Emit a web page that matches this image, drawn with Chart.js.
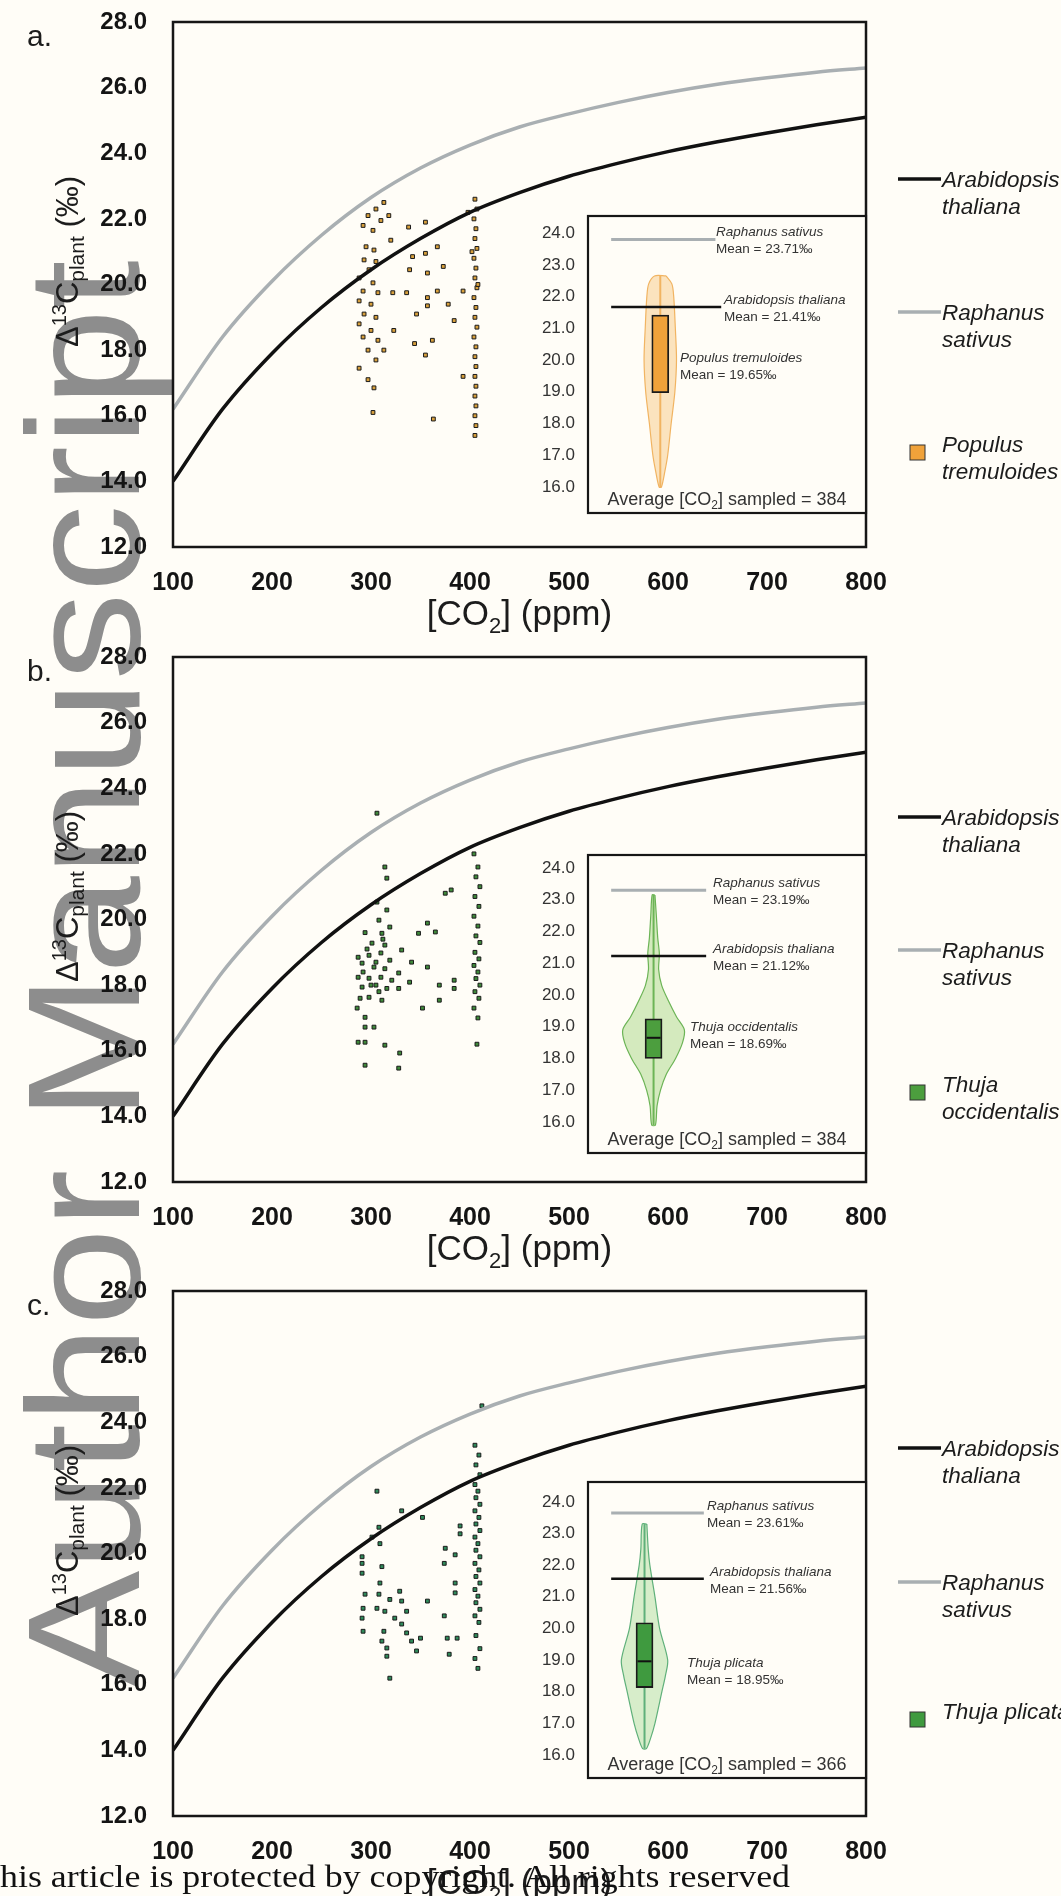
<!DOCTYPE html>
<html>
<head>
<meta charset="utf-8">
<title>Δ13C plant vs CO2</title>
<script src="https://cdn.jsdelivr.net/npm/chart.js@4.4.1/dist/chart.umd.min.js"></script>
<style>
  html, body { margin: 0; padding: 0; background: #fffdf7; }
  #page { position: relative; width: 1061px; height: 1896px; overflow: hidden; }
  #page canvas { position: absolute; }
  #wm { position: absolute; z-index: 0; font-family: "Liberation Sans", Arial, sans-serif; font-size: 160px; line-height: 1; color: #8d8d8d; white-space: nowrap; transform-origin: 0 0; }
  #foot { position: absolute; z-index: 5; left: 0; font-family: "Liberation Serif", "Times New Roman", serif; font-size: 31px; line-height: 1; color: #111; white-space: nowrap; transform-origin: 0 0; }
</style>
</head>
<body>
<div id="page">
  <div id="wm">Author Manuscript</div>
  <div id="foot">his article is protected by copyright. All rights reserved</div>
</div>
<script>
// Axis ticks
const xTicks = [100, 200, 300, 400, 500, 600, 700, 800];
const yTicks = [12, 14, 16, 18, 20, 22, 24, 26, 28];
const insetTicks = [16, 17, 18, 19, 20, 21, 22, 23, 24];

// Model curves (same in all panels)
const curveCO2 = [100, 150, 200, 250, 300, 350, 400, 450, 500, 550, 600, 650, 700, 750, 800];
const arabidopsis = [14.0, 16.2, 17.9, 19.3, 20.45, 21.4, 22.2, 22.8, 23.3, 23.7, 24.05, 24.35, 24.62, 24.87, 25.1];
const raphanus = [16.2, 18.4, 20.1, 21.5, 22.65, 23.55, 24.25, 24.8, 25.2, 25.55, 25.85, 26.1, 26.3, 26.47, 26.6];

// a. Populus tremuloides
const aCO2 = [313, 305, 297, 310, 302, 292, 318, 295, 303, 293, 305, 298, 288, 302, 292, 307, 288, 300, 293, 305,
  288, 300, 292, 307, 313, 297, 288, 305, 297, 303, 302, 320, 322, 323,
  338, 355, 342, 355, 367, 339, 357, 373, 336, 357, 367, 346, 357, 384, 344, 362, 355, 363, 378,
  405, 407, 404, 406, 405, 407, 404, 406, 405, 407, 404, 406, 405, 407, 404, 406, 405, 406, 405, 406, 405, 406, 405, 406, 405,
  393, 393, 398, 402, 408];
const aD13C = [22.5, 22.3, 22.1, 21.95, 21.65, 21.8, 22.1, 21.15, 21.05, 20.75, 20.7, 20.45, 20.2, 20.05, 19.8, 19.75, 19.5, 19.4, 19.1, 19.0,
  18.8, 18.6, 18.4, 18.3, 18.0, 18.0, 17.45, 17.7, 17.1, 16.85, 16.1, 21.35, 19.75, 18.6,
  21.75, 21.9, 20.85, 20.95, 21.15, 20.45, 20.35, 20.55, 19.75, 19.6, 19.8, 19.1, 19.35, 18.9, 18.2, 18.3, 17.85, 15.9, 19.4,
  22.6, 22.3, 22.0, 21.7, 21.4, 21.1, 20.8, 20.5, 20.2, 19.9, 19.6, 19.3, 19.0, 18.7, 18.4, 18.1, 17.8, 17.5, 17.2, 16.9, 16.6, 16.3, 16.0, 15.7, 15.4,
  19.8, 17.2, 22.2, 21.0, 20.0];

// b. Thuja occidentalis
const bCO2 = [306, 314, 316, 306, 316, 308, 294, 311, 319, 301, 314, 331, 287, 298, 310, 319, 291, 303, 314, 328,
  287, 298, 310, 321, 291, 305, 316, 328, 298, 311, 289, 286, 294, 294, 303, 287, 294, 314, 329, 294, 328,
  296, 305, 300, 308, 292, 312,
  357, 348, 365, 341, 357, 339, 369, 384, 384, 369, 352, 381, 375,
  404, 408, 406, 410, 405, 409, 404, 408, 406, 410, 405, 409, 404, 408, 406, 410, 405, 409, 404, 408, 407];
const bD13C = [23.24, 21.6, 21.26, 20.53, 20.29, 19.98, 19.6, 19.58, 19.77, 19.28, 19.22, 19.07, 18.85, 18.91, 18.98, 18.76, 18.67, 18.55, 18.5, 18.37,
  18.24, 18.21, 18.24, 18.15, 17.94, 18.0, 17.9, 17.9, 17.63, 17.54, 17.6, 17.3, 17.02, 16.72, 16.72, 16.26, 16.26, 16.17, 15.93, 15.56, 15.47,
  19.1, 18.7, 18.0, 17.8, 18.4, 19.4,
  19.89, 19.58, 19.62, 18.7, 18.55, 18.09, 18.0, 18.15, 17.9, 17.54, 17.3, 20.9, 20.8,
  22.0, 21.6, 21.3, 21.0, 20.7, 20.4, 20.1, 19.8, 19.5, 19.3, 19.0, 18.8, 18.6, 18.4, 18.2, 18.0, 17.8, 17.6, 17.3, 17.0, 16.2];

// c. Thuja plicata
const cCO2 = [412, 306, 331, 352, 308, 301, 309, 291, 291, 311, 291, 309, 329, 294, 308, 319, 331, 357, 292, 306,
  314, 336, 291, 324, 331, 292, 313, 336, 350, 311, 341, 346, 316, 316, 319,
  375, 385, 374, 390, 390, 385, 385, 374, 377, 387, 379,
  405, 409, 406, 410, 405, 408, 406, 410, 405, 409, 406, 410, 405, 408, 406, 410, 405, 409, 406, 410, 405, 408, 406, 410, 405, 409, 406, 410, 405, 408];
const cD13C = [24.5, 21.9, 21.3, 21.1, 20.8, 20.5, 20.3, 19.9, 19.7, 19.6, 19.4, 19.1, 18.85, 18.76, 18.76, 18.6, 18.55, 18.55, 18.33, 18.33,
  18.24, 18.24, 18.03, 18.03, 17.85, 17.63, 17.63, 17.58, 17.42, 17.33, 17.33, 17.03, 17.12, 16.87, 16.2,
  20.16, 19.96, 19.7, 20.84, 20.6, 19.1, 18.8, 18.1, 17.42, 17.42, 16.93,
  23.3, 23.0, 22.7, 22.4, 22.1, 21.9, 21.7, 21.5, 21.3, 21.1, 20.9, 20.7, 20.5, 20.3, 20.1, 19.9, 19.7, 19.5, 19.3, 19.1,
  18.9, 18.7, 18.5, 18.3, 18.1, 17.9, 17.5, 17.1, 16.8, 16.5];

// Inset violins: value and half width (inset x units)
const violinAVal = [22.65, 22.4, 22.0, 21.0, 20.0, 19.0, 18.0, 17.0, 16.5, 16.0];
const violinAWid = [2.5, 5.0, 5.8, 6.5, 7.0, 6.3, 4.7, 3.2, 2.0, 0.5];
const violinBVal = [23.15, 22.5, 21.8, 21.3, 20.8, 20.3, 19.8, 19.3, 18.9, 18.5, 18.0, 17.5, 17.0, 16.5, 15.9];
const violinBWid = [0.6, 1.2, 1.8, 2.5, 2.2, 3.5, 6.5, 10.0, 13.3, 12.5, 9.5, 5.5, 3.0, 1.5, 0.8];
const violinCVal = [23.3, 22.5, 22.0, 21.0, 20.0, 19.0, 18.5, 18.0, 17.0, 16.5, 16.2];
const violinCWid = [1.0, 1.6, 2.3, 4.5, 6.5, 10.0, 9.0, 7.5, 4.5, 2.5, 0.8];

// Inset summary values: [raphanus line, arabidopsis line], box [q1, q3], median, whisker [min, max], species mean
const aRef = [23.8, 21.67], aBox = [18.97, 21.42], aMed = null, aWhisk = [16.0, 22.65], aMean = 19.85;
const bRef = [23.30, 21.23], bBox = [18.0, 19.25], bMed = 18.65, bWhisk = [15.9, 23.15], bMean = 18.77;
const cRef = [23.65, 21.57], cBox = [18.13, 20.18], cMed = 18.96, cWhisk = [16.2, 23.3], cMean = 18.67;

const FONT = '"Liberation Sans", Arial, sans-serif';
const BG = '#fffdf7';

const panels = [
  { label: 'a.', top: 0, co2: aCO2, d13c: aD13C, dot: '#d8a03c', sq: '#f0a23a',
    species: ['Populus', 'tremuloides'], legY: [157, 290, 425],
    inset: { top: 214, h: 301, ymin: 15.18, ymax: 24.54, center: 21.2, refEnd: [45, 47.5],
      val: violinAVal, wid: violinAWid, ref: aRef, box: aBox, med: aMed, whisk: aWhisk, mean: aMean,
      vFill: 'rgba(246,196,120,0.45)', vLine: '#f1b462', boxFill: '#f0a23a',
      texts: [['Raphanus sativus', 'Mean = 23.71‰', 188], ['Arabidopsis thaliana', 'Mean = 21.41‰', 196], ['Populus tremuloides', 'Mean = 19.65‰', 152]],
      avg: '384' } },
  { label: 'b.', top: 635, co2: bCO2, d13c: bD13C, dot: '#3f8a3a', sq: '#4c9e3e',
    species: ['Thuja', 'occidentalis'], legY: [160, 293, 430],
    inset: { top: 853, h: 302, ymin: 15.02, ymax: 24.41, center: 18.3, refEnd: [41, 41],
      val: violinBVal, wid: violinBWid, ref: bRef, box: bBox, med: bMed, whisk: bWhisk, mean: bMean,
      vFill: 'rgba(160,210,120,0.45)', vLine: '#6cb456', boxFill: '#4c9e3e',
      texts: [['Raphanus sativus', 'Mean = 23.19‰', 185], ['Arabidopsis thaliana', 'Mean = 21.12‰', 185], ['Thuja occidentalis', 'Mean = 18.69‰', 162]],
      avg: '384' } },
  { label: 'c.', top: 1269, co2: cCO2, d13c: cD13C, dot: '#2f8a5a', sq: '#3f9a3f',
    species: ['Thuja plicata'], legY: [157, 291, 423],
    inset: { top: 1480, h: 300, ymin: 15.27, ymax: 24.63, center: 14.4, refEnd: [40, 40],
      val: violinCVal, wid: violinCWid, ref: cRef, box: cBox, med: cMed, whisk: cWhisk, mean: cMean,
      vFill: 'rgba(160,215,140,0.42)', vLine: '#5fb07a', boxFill: '#3f9a3f',
      texts: [['Raphanus sativus', 'Mean = 23.61‰', 179], ['Arabidopsis thaliana', 'Mean = 21.56‰', 182], ['Thuja plicata', 'Mean = 18.95‰', 159]],
      avg: '366' } }
];

// draws a run of text pieces with different sizes / offsets
function richText(ctx, parts, x, y, align) {
  let w = 0;
  parts.forEach(p => { ctx.font = p.f; p.w = ctx.measureText(p.t).width; w += p.w; });
  let cx = align === 'center' ? x - w / 2 : x;
  ctx.textAlign = 'left';
  ctx.textBaseline = 'alphabetic';
  parts.forEach(p => { ctx.font = p.f; ctx.fillText(p.t, cx, y + (p.dy || 0)); cx += p.w; });
}

function mkCanvas(left, top, w, h, z) {
  const c = document.createElement('canvas');
  c.width = w; c.height = h;
  c.style.left = left + 'px'; c.style.top = top + 'px'; c.style.zIndex = z;
  document.getElementById('page').appendChild(c);
  return c;
}

// keep the tick label overhang from pushing the plot area down
function noOverhang(s, w) {
  s.width = w;
  s.paddingTop = 0;
  s.paddingBottom = 0;
}

function decorPlugin(p) {
  return {
    id: 'decor',
    afterDraw(chart) {
      const ctx = chart.ctx, a = chart.chartArea;
      ctx.save();
      ctx.strokeStyle = '#161616';
      ctx.lineWidth = 2.5;
      ctx.strokeRect(a.left, a.top, a.right - a.left, a.bottom - a.top);
      ctx.fillStyle = '#1c1c1c';
      ctx.font = `30px ${FONT}`;
      ctx.textAlign = 'left';
      ctx.fillText(p.label, 27, a.top + 24);
      // x title
      richText(ctx, [
        { t: '[CO', f: `35px ${FONT}` },
        { t: '2', f: `22px ${FONT}`, dy: 8 },
        { t: '] (ppm)', f: `35px ${FONT}` }
      ], (a.left + a.right) / 2, a.bottom + 78, 'center');
      // y title
      ctx.save();
      ctx.translate(67, (a.top + a.bottom) / 2 - 23);
      ctx.rotate(-Math.PI / 2);
      richText(ctx, [
        { t: 'Δ', f: `31px ${FONT}` },
        { t: '13', f: `20px ${FONT}`, dy: -12 },
        { t: 'C', f: `31px ${FONT}` },
        { t: 'plant', f: `21px ${FONT}`, dy: 6 },
        { t: ' (‰)', f: `31px ${FONT}` }
      ], 0, 11, 'center');
      ctx.restore();
      // legend
      const legend = [
        { kind: 'line', color: '#111', text: ['Arabidopsis', 'thaliana'] },
        { kind: 'line', color: '#a9afb2', text: ['Raphanus', 'sativus'] },
        { kind: 'sq', color: p.sq, text: p.species }
      ];
      legend.forEach((it, i) => {
        const y = a.top + p.legY[i];
        if (it.kind === 'line') {
          ctx.strokeStyle = it.color;
          ctx.lineWidth = 3.5;
          ctx.beginPath(); ctx.moveTo(898, y); ctx.lineTo(941, y); ctx.stroke();
        } else {
          ctx.fillStyle = it.color;
          ctx.fillRect(910, y - 2, 15, 15);
          ctx.strokeStyle = '#333';
          ctx.lineWidth = 1;
          ctx.strokeRect(910, y - 2, 15, 15);
        }
        ctx.fillStyle = '#1c1c1c';
        ctx.font = `italic 22.5px ${FONT}`;
        ctx.textAlign = 'left';
        const y0 = it.kind === 'sq' ? y - 3 : y;
        it.text.forEach((t, k) => ctx.fillText(t, 942, y0 + 8 + k * 27));
      });
      ctx.restore();
    }
  };
}

function insetPlugin(q) {
  return {
    id: 'insetDecor',
    beforeDatasetsDraw(chart) {
      const ctx = chart.ctx, a = chart.chartArea;
      ctx.save();
      ctx.fillStyle = BG;
      ctx.fillRect(a.left, a.top, a.right - a.left, a.bottom - a.top);
      ctx.restore();
    },
    afterDraw(chart) {
      const ctx = chart.ctx, a = chart.chartArea, ys = chart.scales.y;
      ctx.save();
      ctx.strokeStyle = '#161616';
      ctx.lineWidth = 2.2;
      ctx.strokeRect(a.left, a.top, a.right - a.left, a.bottom - a.top);
      ctx.fillStyle = '#333';
      const vals = [q.ref[0], q.ref[1], q.mean];
      q.texts.forEach((t, i) => {
        const y = ys.getPixelForValue(vals[i]);
        ctx.font = `italic 13.5px ${FONT}`;
        ctx.textAlign = 'left';
        ctx.fillText(t[0], t[2], y - 3);
        ctx.font = `13.5px ${FONT}`;
        ctx.fillText(t[1], t[2], y + 14);
      });
      richText(ctx, [
        { t: 'Average [CO', f: `18px ${FONT}` },
        { t: '2', f: `12px ${FONT}`, dy: 4 },
        { t: '] sampled = ' + q.avg, f: `18px ${FONT}` }
      ], (a.left + a.right) / 2, a.bottom - 8, 'center');
      ctx.restore();
    }
  };
}

panels.forEach(p => {
  const c = mkCanvas(0, p.top, 1061, 634, 1);
  new Chart(c, {
    type: 'scatter',
    data: {
      datasets: [
        { label: 'Arabidopsis thaliana', data: curveCO2.map((x, i) => ({ x, y: arabidopsis[i] })),
          showLine: true, borderColor: '#111', borderWidth: 3.5, pointRadius: 0, cubicInterpolationMode: 'monotone' },
        { label: 'Raphanus sativus', data: curveCO2.map((x, i) => ({ x, y: raphanus[i] })),
          showLine: true, borderColor: '#a9afb2', borderWidth: 3.5, pointRadius: 0, cubicInterpolationMode: 'monotone' },
        { label: p.species.join(' '), data: p.co2.map((x, i) => ({ x, y: p.d13c[i] })),
          pointStyle: 'rect', pointRadius: 2.7, backgroundColor: p.dot, borderColor: '#1a1a1a', borderWidth: 1 }
      ]
    },
    options: {
      responsive: false, animation: false,
      layout: { padding: { top: 22, right: 195, bottom: 0, left: 0 } },
      plugins: { legend: { display: false }, tooltip: { enabled: false } },
      scales: {
        x: { type: 'linear', min: 100, max: 800,
          grid: { display: false, drawTicks: false }, border: { display: false },
          afterBuildTicks: s => { s.ticks = xTicks.map(v => ({ value: v })); },
          afterFit: s => { s.height = 87; },
          ticks: { padding: 21, color: '#141414', maxRotation: 0, autoSkip: false,
            font: { family: FONT, size: 25, weight: 'bold' } } },
        y: { min: 12, max: 28,
          grid: { display: false, drawTicks: false }, border: { display: false },
          afterBuildTicks: s => { s.ticks = yTicks.map(v => ({ value: v })); },
          afterFit: s => noOverhang(s, 173),
          ticks: { padding: 26, color: '#141414', callback: v => v.toFixed(1),
            font: { family: FONT, size: 24, weight: 'bold' } } }
      }
    },
    plugins: [decorPlugin(p)]
  });

  // inset violin chart
  const q = p.inset;
  const ic = mkCanvas(528, q.top, 340, q.h, 2);
  const right = q.val.map((v, i) => ({ x: q.center + q.wid[i], y: v }));
  const left = q.val.map((v, i) => ({ x: q.center - q.wid[i], y: v })).reverse();
  const shape = right.concat(left, [right[0]]);
  const ds = [
    { type: 'line', data: [{ x: 0, y: q.ref[0] }, { x: q.refEnd[0], y: q.ref[0] }], borderColor: '#a9afb2', borderWidth: 3, pointRadius: 0 },
    { type: 'line', data: [{ x: 0, y: q.ref[1] }, { x: q.refEnd[1], y: q.ref[1] }], borderColor: '#111', borderWidth: 2.5, pointRadius: 0 }
  ];
  if (q.med !== null) {
    ds.push({ type: 'line', data: [{ x: q.center - 3, y: q.med }, { x: q.center + 3, y: q.med }], borderColor: '#111', borderWidth: 2, pointRadius: 0 });
  }
  ds.push(
    { type: 'bar', data: [{ x: q.center, y: q.box }], backgroundColor: q.boxFill, borderColor: '#1a1a1a', borderWidth: 1.8, borderSkipped: false, barThickness: 17 },
    { type: 'line', data: [{ x: q.center, y: q.whisk[0] }, { x: q.center, y: q.whisk[1] }], borderColor: q.vLine, borderWidth: 2, pointRadius: 0 },
    { type: 'line', data: shape, borderColor: q.vLine, borderWidth: 1.2, backgroundColor: q.vFill, fill: 'shape', pointRadius: 0, tension: 0.3 }
  );
  new Chart(ic, {
    type: 'scatter',
    data: { datasets: ds },
    options: {
      responsive: false, animation: false,
      layout: { padding: { top: 2, right: 2, bottom: 2, left: 0 } },
      plugins: { legend: { display: false }, tooltip: { enabled: false } },
      scales: {
        x: { type: 'linear', min: 0, max: 100, display: false },
        y: { min: q.ymin, max: q.ymax,
          grid: { display: false, drawTicks: false }, border: { display: false },
          afterBuildTicks: s => { s.ticks = insetTicks.map(v => ({ value: v })); },
          afterFit: s => noOverhang(s, 60),
          ticks: { padding: 13, color: '#333', callback: v => v.toFixed(1), font: { family: FONT, size: 17 } } }
      }
    },
    plugins: [insetPlugin(q)]
  });
});

// watermark and footer, stretched to the widths seen in the picture
const mctx = document.createElement('canvas').getContext('2d');
mctx.font = `160px ${FONT}`;
const wmW = mctx.measureText('Author Manuscript').width;
const wm = document.getElementById('wm');
wm.style.left = (139 - 135) + 'px';
wm.style.top = '1688px';
wm.style.transform = `rotate(-90deg) scaleX(${1428 / wmW})`;

mctx.font = '31px "Liberation Serif", serif';
const ftW = mctx.measureText('his article is protected by copyright. All rights reserved').width;
const foot = document.getElementById('foot');
foot.style.top = (1887 - 26) + 'px';
foot.style.transform = `scaleX(${792 / ftW})`;
</script>
</body>
</html>
